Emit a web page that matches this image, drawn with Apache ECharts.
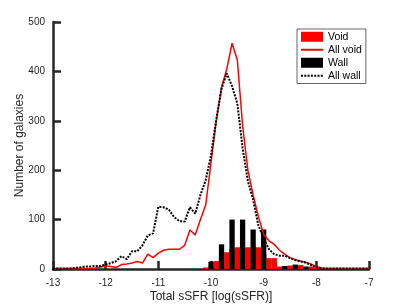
<!DOCTYPE html>
<html>
<head>
<meta charset="utf-8">
<script src="https://cdn.jsdelivr.net/npm/echarts@6/dist/echarts.min.js"></script>
<style>
html,body{margin:0;padding:0;background:#fff;}
#chart{width:407px;height:305px;}
</style>
</head>
<body>
<div id="chart"></div>
<script>
// x positions of the line samples (log sSFR)
var lineX = [-13.0,-12.9,-12.8,-12.7,-12.6,-12.5,-12.4,-12.3,-12.2,-12.1,
  -12.0,-11.9,-11.8,-11.7,-11.6,-11.5,-11.4,-11.3,-11.2,-11.1,
  -11.0,-10.9,-10.8,-10.7,-10.6,-10.5,-10.4,-10.3,-10.2,-10.1,
  -10.0,-9.9,-9.8,-9.7,-9.6,-9.5,-9.4,-9.3,-9.2,-9.1,
  -9.0,-8.9,-8.8,-8.7,-8.6,-8.5,-8.4,-8.3,-8.2,-8.1,
  -8.0,-7.9,-7.8,-7.7,-7.6,-7.5,-7.4,-7.3,-7.2,-7.1,-7.0];
// All void (red solid line)
var allVoid = [1,1,1,1,1,1,1,1,2,4,
  6,5,3,9,10,12,15,12,30,23,
  32,38,40,40,40,48,79,69,100,130,
  215,300,368,405,457,423,290,200,150,106,
  70,57,50,38,30,23,19,16,13,10,
  5,2,1,1,1,1,1,1,1,1,1];
// All wall (black dotted line)
var allWall = [1,1,1,1,2,3,5,5,6,6,
  9,12,16,26,20,36,36,48,68,72,
  126,125,120,105,97,96,125,112,150,180,
  230,302,365,396,370,335,245,178,140,88,
  62,40,30,27,27,22,18,15,13,8,
  3,1,1,1,1,1,1,1,1,1,1];
// Void histogram (red bars)
var voidX = [-10.1,-10.0,-9.9,-9.8,-9.7,-9.6,-9.5,-9.4,-9.3,-9.2,-9.1,-9.0,-8.9,-8.8,-8.7,-8.6,-8.5,-8.4,-8.3,-8.2,-8.1,-8.0,-7.9];
var voidY = [3,5,16,25,34,40,44,44,44,44,44,30,22,22,5,5,7,5,8,4,5,2,1];
// Wall histogram (black bars)
var wallX = [-10.0,-9.8,-9.6,-9.4,-9.2,-9.0,-8.8,-8.6,-8.4,-8.2];
var wallY = [15,50,100,100,80,80,0,6,9,5];

var names = ['Void','All void','Wall','All wall'];
var xTitle = 'Total sSFR [log(sSFR)]';
var yTitle = 'Number of galaxies';

function pairs(xs, ys){ return xs.map(function(x,i){ return [x, ys[i]]; }); }

var axisColor = '#262626';
var font = 'Liberation Sans, Arial, Helvetica, sans-serif';
var hidden = {opacity:0};

var chart = echarts.init(document.getElementById('chart'), null, {renderer:'canvas'});
chart.setOption({
  backgroundColor:'#ffffff',
  animation:false,
  textStyle:{fontFamily:font},
  grid:{left:53, right:38, top:22, bottom:36, containLabel:false, outerBoundsMode:'none'},
  legend:{
    orient:'vertical', left:297, top:29,
    padding:[2,4,2,3], itemGap:1.5, itemWidth:22, itemHeight:10,
    borderColor:'#666', borderWidth:1, backgroundColor:'#fff',
    textStyle:{fontSize:10.5, lineHeight:11.5, color:'#000', fontFamily:font},
    data:[{name:names[0], icon:'rect'},
          {name:names[1], itemStyle:hidden},
          {name:names[2], icon:'rect'},
          {name:names[3], itemStyle:hidden}]
  },
  xAxis:{
    type:'value', min:-13, max:-7, interval:1,
    name:xTitle, nameLocation:'middle', nameGap:22, nameMoveOverlap:false,
    nameTextStyle:{fontSize:12, color:axisColor, fontFamily:font},
    axisLine:{show:true, onZero:false, lineStyle:{color:axisColor, width:2.5}},
    axisTick:{show:true, inside:true, length:8, lineStyle:{color:axisColor, width:2.5}},
    axisLabel:{fontSize:10, color:axisColor, margin:9, fontFamily:font},
    splitLine:{show:false}
  },
  yAxis:{
    type:'value', min:0, max:500, interval:100,
    name:yTitle, nameLocation:'middle', nameGap:27, nameMoveOverlap:false,
    nameTextStyle:{fontSize:12, color:axisColor, fontFamily:font},
    axisLine:{show:true, lineStyle:{color:axisColor, width:2.5}},
    axisTick:{show:true, inside:true, length:8, lineStyle:{color:axisColor, width:2.5}},
    axisLabel:{fontSize:10, color:axisColor, margin:8, fontFamily:font},
    splitLine:{show:false}
  },
  series:[
    {name:names[0], type:'bar', data:pairs(voidX, voidY), barWidth:5.4, barGap:'-100%',
      itemStyle:{color:'#ff0000'}, z:2},
    {name:names[2], type:'bar', data:pairs(wallX, wallY), barWidth:5.3, barGap:'-100%',
      itemStyle:{color:'#000000'}, z:3},
    {name:names[1], type:'line', data:pairs(lineX, allVoid), symbol:'none',
      lineStyle:{color:'#ff0000', width:1.5}, itemStyle:{color:'#ff0000'}, z:4},
    {name:names[3], type:'line', data:pairs(lineX, allWall), symbol:'none',
      lineStyle:{color:'#000000', width:2, type:[2,1.3]}, itemStyle:{color:'#000000'}, z:5}
  ]
});
</script>
</body>
</html>
